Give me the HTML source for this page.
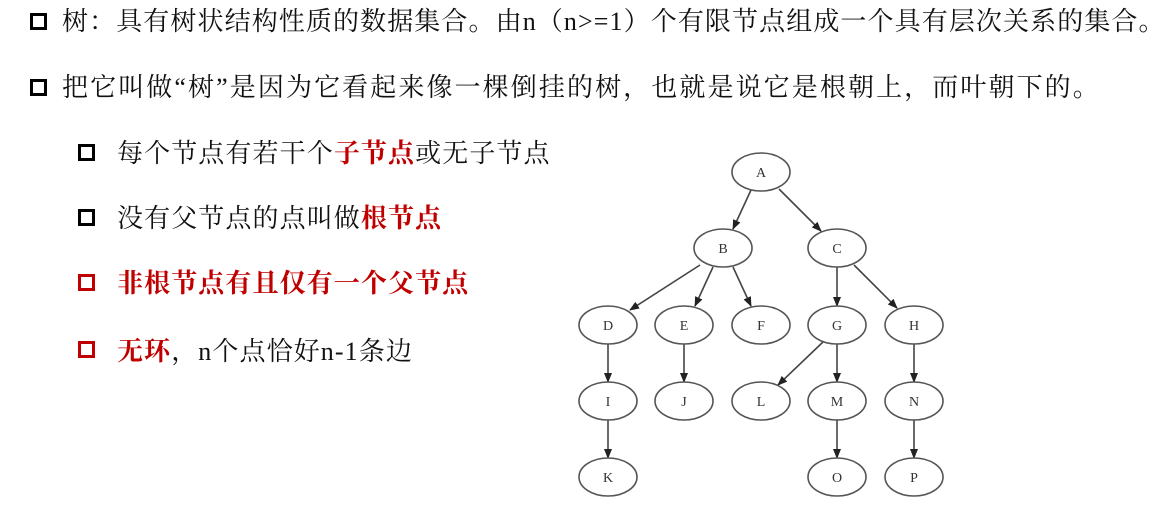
<!DOCTYPE html>
<html><head><meta charset="utf-8"><style>
body{margin:0;width:1174px;height:529px;background:#fff;position:relative;overflow:hidden;font-family:"Liberation Serif","Noto Serif CJK SC",serif;color:#111}
.l{position:absolute;white-space:nowrap;font-size:26px;line-height:30px}
.b{position:absolute;width:11px;height:11px;border:3px solid #000}
.r{color:#c00000;font-weight:bold}
.rb{border-color:#c00000}
</style></head><body>
<div class="b" style="left:30px;top:13px"></div>
<div class="l" style="left:62px;top:7px;letter-spacing:1.1px">树：具有树状结构性质的数据集合。由n（n&gt;=1）个有限节点组成一个具有层次关系的集合。</div>
<div class="b" style="left:30px;top:79px"></div>
<div class="l" style="left:62px;top:73px;letter-spacing:2.1px">把它叫做“树”是因为它看起来像一棵倒挂的树，也就是说它是根朝上，而叶朝下的。</div>
<div class="b" style="left:78px;top:144px"></div>
<div class="l" style="left:117px;top:139px;letter-spacing:1.1px">每个节点有若干个<span class="r">子节点</span>或无子节点</div>
<div class="b" style="left:78px;top:209px"></div>
<div class="l" style="left:117px;top:204px;letter-spacing:1.1px">没有父节点的点叫做<span class="r">根节点</span></div>
<div class="b rb" style="left:78px;top:274px"></div>
<div class="l r" style="left:117px;top:269px;letter-spacing:1.1px">非根节点有且仅有一个父节点</div>
<div class="b rb" style="left:78px;top:341px"></div>
<div class="l" style="left:117px;top:337px;letter-spacing:1.1px"><span class="r">无环</span>，n个点恰好n-1条边</div>
<svg style="position:absolute;left:0;top:0" width="1174" height="529">
<defs><marker id="a" markerWidth="10" markerHeight="8" refX="9" refY="4" orient="auto" markerUnits="userSpaceOnUse"><path d="M0,0L10,4L0,8z" fill="#222"/></marker></defs>
<g stroke="#444" stroke-width="1.6" fill="none" marker-end="url(#a)">
<line x1="751" y1="190" x2="733" y2="229"/>
<line x1="779" y1="189" x2="821" y2="231"/>
<line x1="700" y1="265" x2="630" y2="310"/>
<line x1="713" y1="267" x2="695" y2="306"/>
<line x1="733" y1="267" x2="751" y2="306"/>
<line x1="837" y1="267" x2="837" y2="306"/>
<line x1="854" y1="265" x2="897" y2="308"/>
<line x1="608" y1="344" x2="608" y2="382"/>
<line x1="684" y1="344" x2="684" y2="382"/>
<line x1="823" y1="342" x2="778" y2="385"/>
<line x1="837" y1="344" x2="837" y2="382"/>
<line x1="914" y1="344" x2="914" y2="382"/>
<line x1="608" y1="420" x2="608" y2="458"/>
<line x1="837" y1="420" x2="837" y2="458"/>
<line x1="914" y1="420" x2="914" y2="458"/>
</g>
<g stroke="#555" stroke-width="1.6" fill="#fff">
<ellipse cx="761" cy="172" rx="29" ry="19"/>
<ellipse cx="723" cy="248" rx="29" ry="19"/><ellipse cx="837" cy="248" rx="29" ry="19"/>
<ellipse cx="608" cy="325" rx="29" ry="19"/><ellipse cx="684" cy="325" rx="29" ry="19"/><ellipse cx="761" cy="325" rx="29" ry="19"/><ellipse cx="837" cy="325" rx="29" ry="19"/><ellipse cx="914" cy="325" rx="29" ry="19"/>
<ellipse cx="608" cy="401" rx="29" ry="19"/><ellipse cx="684" cy="401" rx="29" ry="19"/><ellipse cx="761" cy="401" rx="29" ry="19"/><ellipse cx="837" cy="401" rx="29" ry="19"/><ellipse cx="914" cy="401" rx="29" ry="19"/>
<ellipse cx="608" cy="477" rx="29" ry="19"/><ellipse cx="837" cy="477" rx="29" ry="19"/><ellipse cx="914" cy="477" rx="29" ry="19"/>
</g>
<g font-family="Liberation Serif,serif" font-size="14" fill="#333" text-anchor="middle">
<text x="761" y="177">A</text><text x="723" y="253">B</text><text x="837" y="253">C</text>
<text x="608" y="330">D</text><text x="684" y="330">E</text><text x="761" y="330">F</text><text x="837" y="330">G</text><text x="914" y="330">H</text>
<text x="608" y="406">I</text><text x="684" y="406">J</text><text x="761" y="406">L</text><text x="837" y="406">M</text><text x="914" y="406">N</text>
<text x="608" y="482">K</text><text x="837" y="482">O</text><text x="914" y="482">P</text>
</g>
</svg>
</body></html>
